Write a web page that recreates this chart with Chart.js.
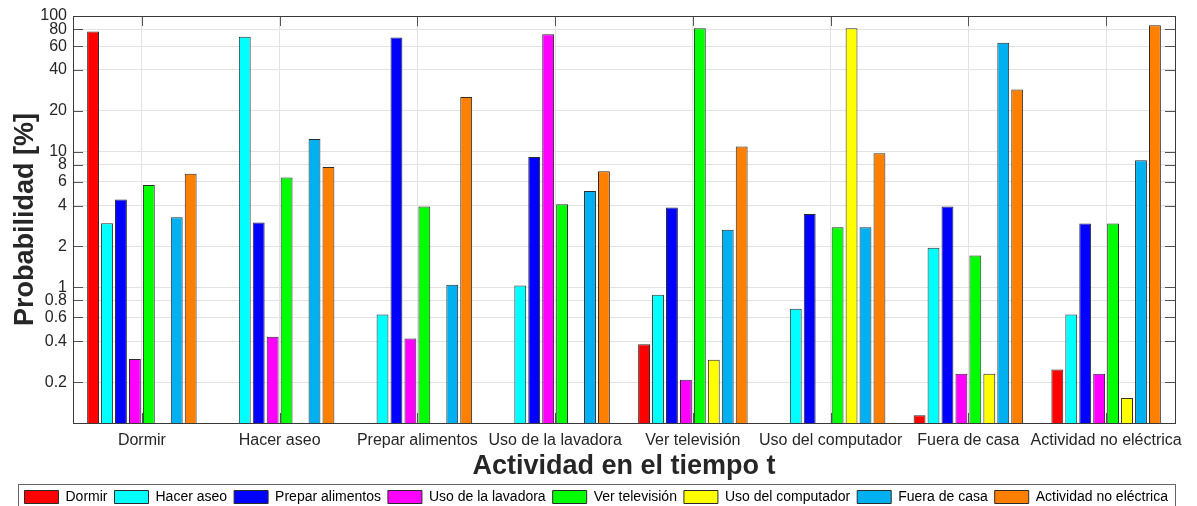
<!DOCTYPE html>
<html>
<head>
<meta charset="utf-8">
<script src="https://cdn.jsdelivr.net/npm/chart.js@4"></script>
<style>
  html, body { margin: 0; padding: 0; background: #fff; }
  #wrap { width: 1197px; height: 506px; }
</style>
</head>
<body>
<div id="wrap"><canvas id="probChart" width="1197" height="506"></canvas></div>
<script>
// categories (x axis) and one array per activity series
const categorias = ['Dormir', 'Hacer aseo', 'Prepar alimentos', 'Uso de la lavadora', 'Ver televisión', 'Uso del computador', 'Fuera de casa', 'Actividad no eléctrica'];

const dormir          = [77,    null,  null,  null,  0.38,  null,  0.114, 0.248];
const hacerAseo       = [2.97,  70.3,  0.63,  1.03,  0.88,  0.695, 1.96,  0.63];
const preparAlimentos = [4.44,  3.0,   69.5,  9.15,  3.88,  3.47,  3.94,  2.95];
const usoLavadora     = [0.296, 0.432, 0.42,  73.5,  0.208, null,  0.231, 0.231];
const verTelevision   = [5.68,  6.46,  3.94,  4.1,   81.3,  2.77,  1.72,  2.95];
const usoComputador   = [null,  null,  null,  null,  0.292, 81.3,  0.231, 0.153];
const fueraCasa       = [3.28,  12.4,  1.046, 5.13,  2.66,  2.77,  63.6,  8.64];
const noElectrica     = [6.87,  7.72,  25.3,  7.18,  10.9,  9.72,  28.7,  85.5];

const yTicks = [0.2, 0.4, 0.6, 0.8, 1, 2, 4, 6, 8, 10, 20, 40, 60, 80, 100];

const fontFam = '"Liberation Sans", Arial, sans-serif';
const txt = '#262626';

function ds(label, data, color) {
  return { label, data, backgroundColor: color, borderColor: '#2b2b2b', borderWidth: 1 };
}

// MATLAB-like box with inward ticks + border around legend
const axesBox = {
  id: 'axesBox',
  beforeDatasetsDraw(chart) {
    const { ctx, chartArea: a, scales: { x, y } } = chart;
    ctx.save();
    ctx.strokeStyle = '#555';
    ctx.lineWidth = 1;
    ctx.beginPath();
    categorias.forEach((c, i) => {
      const px = Math.round(x.getPixelForValue(i)) + 0.5;
      ctx.moveTo(px, a.top); ctx.lineTo(px, a.top + 10);
      ctx.moveTo(px, a.bottom); ctx.lineTo(px, a.bottom - 10);
    });
    yTicks.forEach(v => {
      const py = Math.round(y.getPixelForValue(v)) + 0.5;
      ctx.moveTo(a.left, py); ctx.lineTo(a.left + 10, py);
      ctx.moveTo(a.right, py); ctx.lineTo(a.right - 10, py);
    });
    ctx.stroke();
    ctx.restore();
  },
  afterDraw(chart) {
    const { ctx, chartArea: a, legend } = chart;
    ctx.save();
    ctx.strokeStyle = '#3a3a3a';
    ctx.lineWidth = 1;
    ctx.strokeRect(Math.round(a.left) + 0.5, Math.round(a.top) + 0.5, Math.round(a.right - a.left), Math.round(a.bottom - a.top));
    const hb = legend.legendHitBoxes;
    if (hb && hb.length) {
      const l = Math.min(...hb.map(h => h.left)) - 7;
      const r = Math.max(...hb.map(h => h.left + h.width)) + 7;
      const t = hb[0].top - 6;
      ctx.strokeStyle = '#666';
      ctx.strokeRect(Math.round(l) + 0.5, Math.round(t) + 0.5, Math.round(r - l), 40);
    }
    ctx.restore();
  }
};

new Chart(document.getElementById('probChart'), {
  type: 'bar',
  data: {
    labels: categorias,
    datasets: [
      ds('Dormir', dormir, '#ff0000'),
      ds('Hacer aseo', hacerAseo, '#00ffff'),
      ds('Prepar alimentos', preparAlimentos, '#0000ff'),
      ds('Uso de la lavadora', usoLavadora, '#ff00ff'),
      ds('Ver televisión', verTelevision, '#00ff00'),
      ds('Uso del computador', usoComputador, '#ffff00'),
      ds('Fuera de casa', fueraCasa, '#00b0f0'),
      ds('Actividad no eléctrica', noElectrica, '#ff8000')
    ]
  },
  options: {
    responsive: false,
    animation: false,
    layout: { padding: { top: 16, right: 22, left: 0, bottom: -8 } },
    datasets: { bar: { categoryPercentage: 0.81, barPercentage: 0.85 } },
    plugins: {
      legend: {
        position: 'bottom',
        align: 'end',
        labels: { boxWidth: 34, boxHeight: 13, padding: 7, color: '#000', font: { family: fontFam, size: 14 } }
      },
      tooltip: { enabled: false }
    },
    scales: {
      x: {
        grid: { offset: false, color: '#e3e3e3', drawTicks: false },
        border: { display: false },
        ticks: { color: txt, padding: 8, font: { family: fontFam, size: 16 }, autoSkip: false, maxRotation: 0 },
        title: { display: true, text: 'Actividad en el tiempo t', color: txt, padding: { top: 0, bottom: 0 },
                 font: { family: fontFam, size: 27, weight: 'bold', lineHeight: 1.2 } },
        afterFit(s) { s.height = 60; }
      },
      y: {
        type: 'logarithmic',
        min: 0.1,
        max: 100,
        grid: { color: '#e3e3e3', drawTicks: false },
        border: { display: false },
        afterBuildTicks(s) { s.ticks = yTicks.map(v => ({ value: v })); },
        ticks: { color: txt, padding: 6, autoSkip: false, font: { family: fontFam, size: 16 },
                 callback: v => String(v) },
        title: { display: true, text: 'Probabilidad [%]', color: txt, padding: { top: 9, bottom: 0 },
                 font: { family: fontFam, size: 27, weight: 'bold', lineHeight: 1.2 } },
        afterFit(s) { s.width = 73; }
      }
    }
  },
  plugins: [axesBox]
});
</script>
</body>
</html>
